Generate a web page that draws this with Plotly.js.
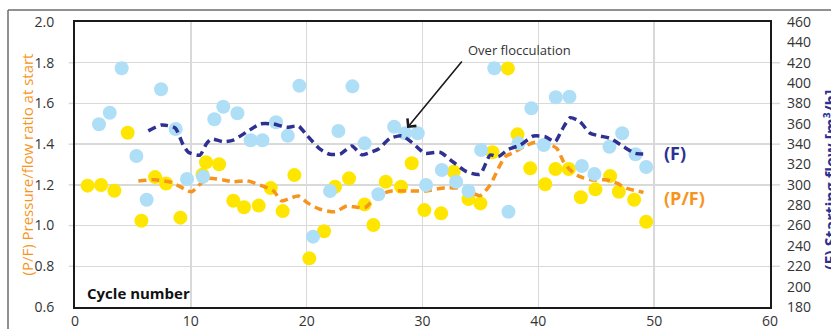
<!DOCTYPE html>
<html>
<head>
<meta charset="utf-8">
<script src="https://cdn.plot.ly/plotly-3.0.1.min.js"></script>
<style>html,body{margin:0;padding:0;background:#fff;}#chart{width:831px;height:329px;}</style>
</head>
<body>
<div id="chart"></div>
<script>
// Starting flow F (right axis, m3/h) - light blue dots
const flowX = [2.07,3.0,4.03,5.3,6.19,7.43,8.69,9.67,11.05,12.03,12.8,14.02,15.17,16.18,17.36,18.37,19.37,20.55,22.02,22.74,23.95,25.0,26.19,27.55,28.5,29.59,30.31,31.67,32.9,33.97,35.06,36.2,37.42,38.28,39.4,40.47,41.51,42.69,43.76,44.84,46.14,47.24,48.39,49.31];
const flowY = [359.5,370.9,414.5,328.4,285.4,394,354.9,305.8,308,364.4,376.8,370.3,343.8,343.8,361.5,348.3,397.4,249.1,294,352.9,396.8,340.8,290.7,357.1,350.7,350.7,299.9,314.6,303.1,294,334.2,414.5,273.6,340.8,375.2,339.2,386,386.6,318.5,310.7,337.5,350.7,330,317.5];

// Pressure/flow ratio P/F (left axis) - yellow dots
const pfX = [1.09,2.25,3.4,4.55,5.73,6.91,7.86,9.1,11.31,12.44,13.67,14.59,15.86,16.9,17.93,18.94,20.23,21.5,22.45,23.66,25.0,25.76,26.83,28.15,29.07,30.16,31.61,32.7,33.97,35.0,36.04,37.37,38.2,39.3,40.59,41.48,42.63,43.67,44.93,46.2,46.95,48.27,49.31];
const pfY = [1.196,1.199,1.171,1.456,1.024,1.238,1.207,1.039,1.311,1.301,1.122,1.09,1.098,1.184,1.071,1.248,0.839,0.972,1.191,1.232,1.104,1.003,1.215,1.191,1.306,1.076,1.06,1.265,1.13,1.109,1.36,1.772,1.448,1.281,1.203,1.278,1.278,1.139,1.178,1.243,1.166,1.127,1.019];
// P/F point hidden behind a flow dot
const pfHiddenX = [11.0];
const pfHiddenY = [1.25];

// Moving average of F (navy dashed)
const flowAvgX = [6.33,7.48,8.64,9.35,9.79,10.79,11.37,11.8,12.8,13.67,14.83,15.98,17.13,18.28,19.28,20.0,21.16,22.0,22.9,23.9,24.76,25.5,26.2,27.2,28.2,29.08,30.2,31.5,32.67,33.8,34.97,35.84,36.55,37.42,38.43,39.58,40.59,41.45,42.03,42.75,43.6,44.47,45.34,46.2,47.35,48.36,49.37];
const flowAvgY = [353,358.8,356,339,332,329.3,340.8,345,342.4,344,352,359.8,359.8,356.5,357.8,349,335,330,330.3,338.2,329.5,332,335.2,345.7,348.3,341.8,331,332,322.2,312.9,310.4,329.3,327.7,334.9,339,348,347.3,342.4,353.9,366,362,350.7,348,345.7,337.5,331,330.3];

// Moving average of P/F (orange dashed)
const pfAvgX = [5.47,6.9,8.35,10.07,10.79,11.5,12.8,13.67,14.83,15.98,17.13,17.85,18.57,19.28,20.14,21.16,22.45,23.46,24.33,25.04,26.2,27.35,28.79,30.22,31.95,33.25,34.11,34.97,35.84,36.55,37.13,38.0,38.72,39.73,40.74,41.6,42.17,42.75,43.6,44.62,45.92,46.78,47.64,49.08];
const pfAvgY = [1.219,1.225,1.212,1.166,1.203,1.232,1.224,1.215,1.22,1.199,1.17,1.121,1.134,1.145,1.109,1.08,1.068,1.096,1.09,1.088,1.15,1.17,1.17,1.17,1.186,1.183,1.166,1.147,1.199,1.281,1.338,1.363,1.387,1.409,1.404,1.379,1.314,1.273,1.24,1.224,1.224,1.208,1.183,1.163];

const gridTicks = [0.8,1.0,1.2,1.4,1.6,1.8];

const NAVY = '#2E3192', ORANGE = '#F7941D', BLUE = '#AEDFF7', YELLOW = '#FFE600';
const FONT = 'Open Sans, Noto Sans, sans-serif';

const traces = [
  {x: pfHiddenX, y: pfHiddenY, type: 'scatter', mode: 'markers', yaxis: 'y',
   marker: {color: YELLOW, size: 14}, hoverinfo: 'skip', showlegend: false},
  {x: flowX, y: flowY, type: 'scatter', mode: 'markers', yaxis: 'y2',
   marker: {color: BLUE, size: 14}, showlegend: false},
  {x: pfX, y: pfY, type: 'scatter', mode: 'markers', yaxis: 'y',
   marker: {color: YELLOW, size: 14}, showlegend: false},
  {x: flowAvgX, y: flowAvgY, type: 'scatter', mode: 'lines', yaxis: 'y2',
   line: {color: NAVY, width: 3.5, dash: '8px,5px', shape: 'spline', smoothing: 0.6}, showlegend: false},
  {x: pfAvgX, y: pfAvgY, type: 'scatter', mode: 'lines', yaxis: 'y',
   line: {color: ORANGE, width: 3.5, dash: '8px,5px', shape: 'spline', smoothing: 0.6}, showlegend: false}
];

const shapes = [
  {type: 'line', xref: 'paper', yref: 'paper', x0: -0.0964, x1: 1.2, y0: 1.042, y1: 1.042, line: {color: '#6d6d6d', width: 1.5}},
  {type: 'line', xref: 'paper', yref: 'paper', x0: -0.0964, x1: -0.0964, y0: 1.042, y1: -0.2, line: {color: '#6d6d6d', width: 1.5}}
];
gridTicks.forEach(v => {
  shapes.push({type: 'line', xref: 'paper', yref: 'y', x0: 1.0, x1: 1.0144, y0: v, y1: v, line: {color: '#d9d9d9', width: 1.5}, layer: 'below'});
  shapes.push({type: 'line', xref: 'paper', yref: 'y', x0: -0.009, x1: 0, y0: v, y1: v, line: {color: '#d9d9d9', width: 1.5}, layer: 'below'});
});

const layout = {
  width: 831, height: 329,
  margin: {l: 75, r: 61, t: 22, b: 22, pad: 0},
  paper_bgcolor: '#fff', plot_bgcolor: '#fff',
  font: {family: FONT, size: 14, color: '#333'},
  showlegend: false,
  xaxis: {
    range: [0, 60], dtick: 10, tick0: 0, showgrid: true, gridcolor: '#d9d9d9', gridwidth: 1.5,
    zeroline: false, showline: true, linecolor: '#1a1a1a', linewidth: 2, mirror: true,
    ticks: '', tickfont: {size: 14, color: '#333'}, automargin: false
  },
  yaxis: {
    range: [0.6, 2.0], dtick: 0.2, tick0: 0.6, tickformat: '.1f',
    showgrid: true, gridcolor: '#d9d9d9', gridwidth: 1.5, zeroline: false,
    showline: true, linecolor: '#1a1a1a', linewidth: 2, mirror: true,
    ticks: '', ticklabelstandoff: 16, tickfont: {size: 14, color: '#333'}, automargin: false
  },
  yaxis2: {
    overlaying: 'y', side: 'right', range: [180, 460], dtick: 20, tick0: 180,
    showgrid: false, zeroline: false, showline: false, ticks: '', ticklabelstandoff: 16,
    tickfont: {size: 14, color: '#333'}, automargin: false
  },
  shapes: shapes,
  annotations: [
    {x: -0.0691, y: 0.5, xref: 'paper', yref: 'paper', text: '(P/F) Pressure/flow ratio at start',
     textangle: -90, showarrow: false, xanchor: 'center', yanchor: 'middle',
     font: {size: 15, color: ORANGE, family: FONT}},
    {x: 1.0878, y: 0.4456, xref: 'paper', yref: 'paper', text: '<b>(F) Starting flow [m³/h]</b>',
     textangle: -90, showarrow: false, xanchor: 'center', yanchor: 'middle',
     font: {size: 16, color: NAVY, family: FONT}},
    {x: 38.4, y: 1.862, xref: 'x', yref: 'y', text: 'Over flocculation', showarrow: false,
     font: {size: 13, color: '#333', family: FONT}},
    {x: 28.67, y: 1.479, xref: 'x', yref: 'y', text: '', showarrow: true, ax: 56, ay: -68,
     arrowhead: 4, arrowsize: 1.4, arrowwidth: 1.6, arrowcolor: '#1a1a1a'},
    {x: 50.7, y: 1.356, xref: 'x', yref: 'y', text: '<b>(F)</b>', showarrow: false, xanchor: 'left',
     font: {size: 18, color: NAVY, family: FONT}},
    {x: 50.7, y: 1.135, xref: 'x', yref: 'y', text: '<b>(P/F)</b>', showarrow: false, xanchor: 'left',
     font: {size: 18, color: ORANGE, family: FONT}},
    {x: 0.0144, y: 0.049, xref: 'paper', yref: 'paper', text: '<b>Cycle number</b>', showarrow: false,
     xanchor: 'left', yanchor: 'middle', font: {size: 15, color: '#111', family: FONT}}
  ]
};

Plotly.newPlot('chart', traces, layout, {staticPlot: true, displayModeBar: false});
</script>
</body>
</html>
